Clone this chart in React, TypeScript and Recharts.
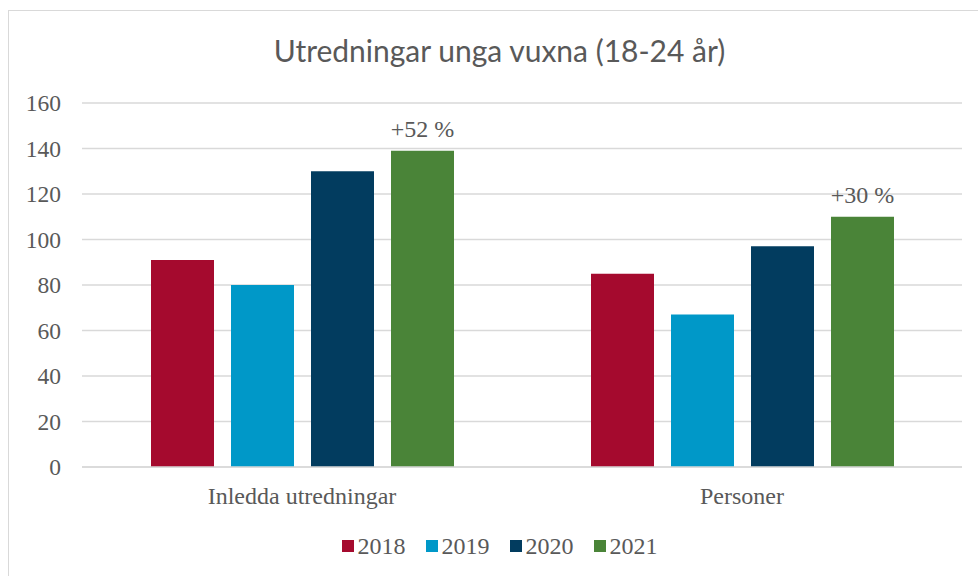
import React from 'react';
import { BarChart, Bar, XAxis, YAxis, CartesianGrid, Legend, LabelList } from 'recharts';

const categories = ['Inledda utredningar', 'Personer'];
const years = ['2018', '2019', '2020', '2021'];
const values2018 = [91, 85];
const values2019 = [80, 67];
const values2020 = [130, 97];
const values2021 = [139, 110];
const growthLabels = ['+52 %', '+30 %'];
const yTicks = [0, 20, 40, 60, 80, 100, 120, 140, 160];
const colors = ['#A50A2E', '#0098C8', '#023C5F', '#4A8438'];

const seriesValues = [values2018, values2019, values2020, values2021];

const data = categories.map((name, i) => {
  const row: Record<string, string | number> = { name, growth: growthLabels[i] };
  years.forEach((y, k) => {
    row['y' + y] = seriesValues[k][i];
  });
  return row;
});

const TEXT = '#595959';
const SERIF = '"Liberation Serif", "Times New Roman", serif';

const YTick = (props: any) => {
  const { x, y, payload } = props;
  return (
    <text x={x} y={y} dy={8} textAnchor="end" fill={TEXT} fontSize={23.5} fontFamily={SERIF}>
      {payload.value}
    </text>
  );
};

const LegendContent = () => (
  <div style={{ display: 'flex', justifyContent: 'center', alignItems: 'center', height: 40 }}>
    {years.map((y, k) => (
      <div key={y} style={{ display: 'flex', alignItems: 'center', marginRight: k < years.length - 1 ? 20 : 0 }}>
        <div style={{ width: 12, height: 12, background: colors[k], marginRight: 4 }} />
        <span style={{ fontFamily: SERIF, fontSize: 24, color: TEXT, lineHeight: '24px' }}>{y}</span>
      </div>
    ))}
  </div>
);

export default function App() {
  return (
    <div style={{ position: 'absolute', left: 0, top: 0, width: 978, height: 576, overflow: 'hidden', background: '#fff' }}>
      <div style={{ position: 'absolute', left: 8, top: 10, width: 1000, height: 600, border: '1.5px solid #d9d9d9', boxSizing: 'border-box' }} />
      <div style={{ position: 'absolute', left: 0, top: 0, width: 999, textAlign: 'center', fontFamily: 'Lato, "Open Sans", sans-serif', fontSize: 30, color: TEXT, lineHeight: '36px', paddingTop: 32 }}>
        Utredningar unga vuxna (18-24 år)
      </div>
      <div style={{ position: 'absolute', left: 0, top: 0 }}>
        <BarChart width={978} height={576} data={data} margin={{ top: 103, right: 16, bottom: 10, left: 0 }} barGap={17} barCategoryGap={69}>
          <CartesianGrid vertical={false} stroke="#d9d9d9" strokeWidth={1.5} />
          <XAxis dataKey="name" height={59} axisLine={{ stroke: '#d9d9d9', strokeWidth: 1.5 }} tickLine={false} tickMargin={14}
            tick={{ fill: TEXT, fontSize: 24, fontFamily: SERIF }} />
          <YAxis width={82} domain={[0, 160]} ticks={yTicks} axisLine={false} tickLine={false} tickMargin={15}
            tick={<YTick />} />
          <Legend verticalAlign="bottom" height={40} wrapperStyle={{ left: 0, width: 999 }} content={<LegendContent />} />
          {years.map((y, k) => (
            <Bar key={y} dataKey={'y' + y} name={y} fill={colors[k]} isAnimationActive={false}>
              {k === years.length - 1 ? (
                <LabelList dataKey="growth" position="top" offset={14} fill={TEXT} fontSize={24} fontFamily={SERIF} />
              ) : null}
            </Bar>
          ))}
        </BarChart>
      </div>
    </div>
  );
}
